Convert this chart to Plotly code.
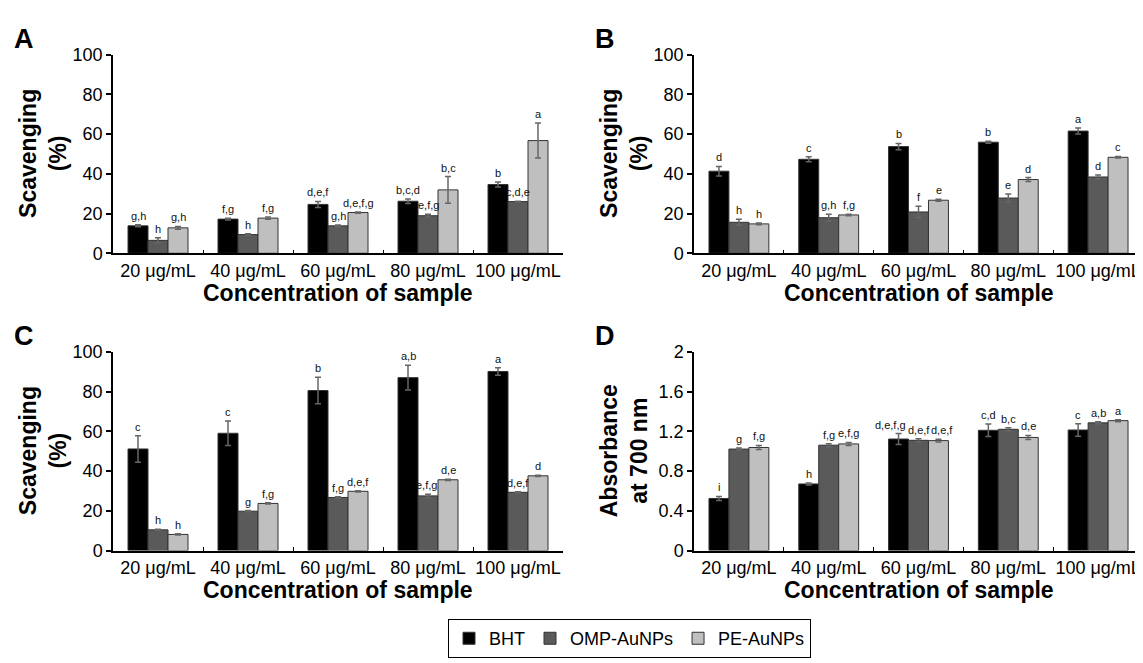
import plotly.graph_objects as go

# The page body has an 8px default margin, so the figure is drawn at (8, 8)
OFF = 8
W, H = 1143 - OFF, 663 - OFF

categories = ["20 μg/mL", "40 μg/mL", "60 μg/mL", "80 μg/mL", "100 μg/mL"]
series_names = ["BHT", "OMP-AuNPs", "PE-AuNPs"]

# Panel A (scavenging %)
a_bht = [13.8, 17.2, 24.6, 26.2, 34.6]
a_omp = [6.5, 9.4, 13.8, 18.9, 26.0]
a_pe = [12.8, 17.7, 20.5, 31.9, 56.7]
a_bht_err = [0.5, 0.4, 1.5, 1.1, 1.3]
a_omp_err = [1.3, 0.4, 0.4, 0.7, 0.2]
a_pe_err = [0.7, 0.6, 0.3, 6.7, 8.8]
a_bht_lab = ["g,h", "f,g", "d,e,f", "b,c,d", "b"]
a_omp_lab = ["h", "h", "g,h", "e,f,g", "c,d,e"]
a_pe_lab = ["g,h", "f,g", "d,e,f,g", "b,c", "a"]

# Panel B
b_bht = [41.3, 47.3, 53.7, 55.9, 61.5]
b_omp = [15.6, 17.9, 20.8, 27.8, 38.4]
b_pe = [14.8, 19.3, 26.7, 37.1, 48.3]
b_bht_err = [2.4, 1.3, 1.6, 0.5, 1.5]
b_omp_err = [1.5, 1.8, 2.9, 2.0, 1.0]
b_pe_err = [0.4, 0.4, 0.5, 1.0, 0.4]
b_bht_lab = ["d", "c", "b", "b", "a"]
b_omp_lab = ["h", "g,h", "f", "e", "d"]
b_pe_lab = ["h", "f,g", "e", "d", "c"]

# Panel C
c_bht = [51.1, 59.0, 80.5, 87.0, 90.1]
c_omp = [10.4, 19.8, 26.7, 27.5, 29.3]
c_pe = [8.1, 23.7, 29.8, 35.6, 37.6]
c_bht_err = [6.7, 6.2, 6.7, 6.2, 1.9]
c_omp_err = [0.3, 0.3, 0.3, 0.8, 0.3]
c_pe_err = [0.3, 0.3, 0.3, 0.3, 0.3]
c_bht_lab = ["c", "c", "b", "a,b", "a"]
c_omp_lab = ["h", "g", "f,g", "e,f,g", "d,e,f"]
c_pe_lab = ["h", "f,g", "d,e,f", "d,e", "d"]

# Panel D (absorbance)
d_bht = [0.524, 0.67, 1.122, 1.21, 1.213]
d_omp = [1.021, 1.06, 1.109, 1.22, 1.285]
d_pe = [1.037, 1.073, 1.106, 1.138, 1.307]
d_bht_err = [0.02, 0.01, 0.055, 0.063, 0.062]
d_omp_err = [0.01, 0.015, 0.015, 0.015, 0.01]
d_pe_err = [0.02, 0.015, 0.015, 0.02, 0.01]
d_bht_lab = ["i", "h", "d,e,f,g", "c,d", "c"]
d_omp_lab = ["g", "f,g", "d,e,f", "b,c", "a,b"]
d_pe_lab = ["f,g", "e,f,g", "d,e,f", "d,e", "a"]

panel_letters = ["A", "B", "C", "D"]
y_titles = ["Scavenging<br>(%)", "Scavenging<br>(%)", "Scavenging<br>(%)", "Absorbance<br>at 700 nm"]
y_ranges = [[0, 100], [0, 100], [0, 100], [0, 2]]
y_dticks = [20, 20, 20, 0.4]
x_title = "Concentration of sample"

panels = [
    ([a_bht, a_omp, a_pe], [a_bht_err, a_omp_err, a_pe_err], [a_bht_lab, a_omp_lab, a_pe_lab]),
    ([b_bht, b_omp, b_pe], [b_bht_err, b_omp_err, b_pe_err], [b_bht_lab, b_omp_lab, b_pe_lab]),
    ([c_bht, c_omp, c_pe], [c_bht_err, c_omp_err, c_pe_err], [c_bht_lab, c_omp_lab, c_pe_lab]),
    ([d_bht, d_omp, d_pe], [d_bht_err, d_omp_err, d_pe_err], [d_bht_lab, d_omp_lab, d_pe_lab]),
]

colors = ["#000000", "#5a5a5a", "#bfbfbf"]
FONT = "Arial, Liberation Sans, sans-serif"

# small horizontal nudges (px) for crowded letter labels: (panel, series, category index)
label_nudge = {(3, 0, 2): -8, (3, 2, 2): 3, (2, 1, 3): -2}


def px_x(v):
    return (v - OFF) / W


def px_y(v):
    return 1 - (v - OFF) / H


# layout geometry (window pixels)
x_doms_px = [(113, 563), (694, 1143), (113, 563), (694, 1143)]
y_doms_px = [(45.7, 250.7), (45.7, 250.7), (352.3, 557.3), (352.3, 557.3)]

fig = go.Figure()
annotations = []
layout_axes = {}

for p, (vals, errs, labs) in enumerate(panels):
    sfx = "" if p == 0 else str(p + 1)
    for s in range(3):
        fig.add_trace(go.Bar(
            x=categories, y=vals[s], name=series_names[s],
            marker=dict(color=colors[s], line=dict(color="#333333", width=1)),
            error_y=dict(type="data", array=errs[s], color="#666666", thickness=1.5, width=3),
            showlegend=(p == 0), legendgroup=series_names[s],
            xaxis="x" + sfx, yaxis="y" + sfx,
        ))
        for k, cat in enumerate(categories):
            annotations.append(dict(
                x=cat, y=vals[s][k] + errs[s][k], xref="x" + sfx, yref="y" + sfx,
                text=labs[s][k], showarrow=False,
                xshift=(s - 1) * 20 + label_nudge.get((p, s, k), 0), yshift=1,
                yanchor="bottom", xanchor="center",
                font=dict(family=FONT, size=11, color="#111111"),
            ))
    x0, x1 = x_doms_px[p]
    yt, yb = y_doms_px[p]
    layout_axes["xaxis" + sfx] = dict(
        domain=[px_x(x0), min(1, px_x(x1))], anchor="y" + sfx, type="category",
        showline=True, linecolor="black", linewidth=1.5,
        ticks="inside", tickson="boundaries", ticklen=4, tickcolor="black", tickwidth=1,
        tickangle=0,
        tickfont=dict(family=FONT, size=18, color="black"), showgrid=False,
    )
    layout_axes["yaxis" + sfx] = dict(
        domain=[px_y(yb), px_y(yt)], anchor="x" + sfx,
        range=y_ranges[p], dtick=y_dticks[p], tick0=0,
        showline=True, linecolor="black", linewidth=1.5,
        ticks="outside", ticklen=5, tickcolor="black", tickwidth=1.5,
        tickfont=dict(family=FONT, size=18, color="black"),
        showgrid=False, zeroline=False,
    )
    # panel letter
    annotations.append(dict(
        x=px_x(x0 - 101), y=px_y(yt - 16), xref="paper", yref="paper",
        text="<b>%s</b>" % panel_letters[p], showarrow=False,
        xanchor="left", yanchor="middle",
        font=dict(family=FONT, size=27, color="black"),
    ))
    # y title
    annotations.append(dict(
        x=px_x(x0 - 70), y=px_y((yt + yb) / 2), xref="paper", yref="paper",
        text="<b>%s</b>" % y_titles[p], showarrow=False, textangle=-90,
        xanchor="center", yanchor="middle",
        font=dict(family=FONT, size=23, color="black"),
    ))
    # x title
    annotations.append(dict(
        x=px_x((x0 + x1) / 2), y=px_y(yb + 41), xref="paper", yref="paper",
        text="<b>%s</b>" % x_title, showarrow=False,
        xanchor="center", yanchor="middle",
        font=dict(family=FONT, size=23, color="black"),
    ))

fig.update_layout(
    width=W, height=H,
    margin=dict(l=0, r=0, t=0, b=0),
    paper_bgcolor="white", plot_bgcolor="white",
    barmode="group", bargap=1 / 3, bargroupgap=0,
    font=dict(family=FONT, color="black"),
    legend=dict(
        orientation="h", x=px_x(448), xanchor="left", y=px_y(628), yanchor="top",
        bordercolor="black", borderwidth=1, font=dict(family=FONT, size=18, color="black"),
        itemwidth=30, traceorder="normal",
    ),
    annotations=annotations,
    **layout_axes,
)

fig.write_html("out.html")
